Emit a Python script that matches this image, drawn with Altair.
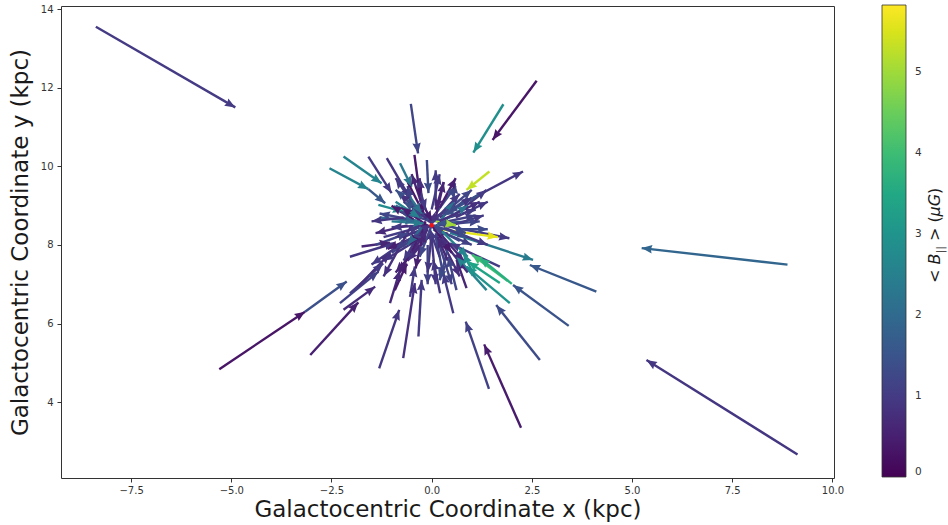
import math
import altair as alt
import pandas as pd

# Line-of-sight field arrows: tail (x0, y0) -> tip (x1, y1) in kpc, colour = <B_par> in uG
x0 = [-8.38, 9.13, 8.88, -5.30, -3.16, -3.03, -1.31, -0.71, -0.33, 0.54, 1.43, 2.23,
      2.70, 3.42, 4.11, 0.46, 0.21, 0.13, 1.44, 1.79, 2.62, 0.79, 0.62, -0.52,
      -2.55, -1.58, -2.20, -1.58, -1.12, -0.79, -0.43, -0.12, -1.33,
      -2.04, -2.29, -2.20, -2.04, -1.83, -1.75,
      -1.04, -0.92, -0.54, 0.21, 0.62, 0.87, 1.08, 1.95, 1.37, 1.70, 1.90, 1.70, 2.00,
      -0.10, -0.10, 0.00, -0.20, -0.10, 0.00, -0.30, 0.10, 0.10, 0.20, 0.10, 0.00,
      0.10, 0.20, 0.00, -0.20, 0.10, -0.30, -0.20, 0.10, -0.40, -1.20, -1.00, 1.20,
      0.90, -0.60, -0.90, -1.30, 0.50, -0.05, 0.15, -0.15, 0.05,
      0.30, 0.40, -0.60, -0.70, 0.60, 0.70, -0.30, 0.20, -0.50, 0.90,
      0.00, 0.00, 0.05, -0.05, 0.00, 0.00, -1.00, 0.50, 0.30, -0.20,
      0.10, -0.40, -0.30, 0.30, -0.10, 0.20, 0.30, -0.15, 0.20, -0.60,
      0.60, -0.50, 0.40, -0.80, 0.10, -0.25, 0.35, -0.45,
      0.20, 0.15, 0.90, -0.90, -0.60, -0.20, 0.00, -0.50, 0.10, -0.35,
      0.30, 0.60, -0.70, -1.40, 0.40]
y0 = [13.55, 2.67, 7.50, 4.84, 6.30, 5.20, 4.86, 5.12, 5.67, 6.26, 4.34, 3.35,
      5.07, 5.94, 6.81, 8.31, 8.51, 8.41, 9.87, 11.58, 12.18, 9.06, 8.81, 11.59,
      9.95, 9.42, 10.25, 10.25, 10.21, 10.08, 10.29, 10.16, 9.02,
      7.70, 6.52, 6.35, 6.77, 6.94, 7.96,
      6.52, 6.85, 6.68, 6.77, 6.85, 6.90, 7.19, 6.52, 6.85, 7.45, 7.08, 7.03, 7.01,
      8.50, 8.40, 8.60, 8.30, 8.70, 8.30, 8.00, 8.60, 8.50, 8.70, 8.80, 8.90,
      8.40, 8.30, 8.30, 8.40, 8.20, 8.30, 8.70, 8.70, 8.70, 8.20, 7.80, 9.30,
      7.30, 9.60, 9.00, 8.70, 8.70, 8.45, 8.65, 8.60, 8.35,
      8.60, 8.30, 8.90, 8.20, 9.00, 8.10, 9.20, 7.70, 7.80, 8.60,
      8.55, 8.55, 8.50, 8.50, 8.50, 8.50, 8.60, 8.50, 8.80, 8.90,
      9.00, 8.10, 8.60, 8.00, 8.00, 8.40, 8.45, 8.75, 8.95, 8.50,
      8.70, 9.10, 7.90, 8.00, 8.60, 8.45, 8.65, 8.65,
      8.60, 8.55, 9.20, 9.10, 9.30, 8.40, 8.20, 8.50, 8.30, 9.60,
      9.60, 8.40, 8.70, 8.00, 7.60]
x1 = [-4.90, 5.36, 5.24, -3.16, -2.12, -1.83, -0.81, -0.42, -0.25, 0.29, 0.85, 1.31,
      1.61, 2.03, 2.45, 2.53, 1.94, 1.65, 0.87, 1.04, 1.52, 2.28, 1.37, -0.34,
      -1.58, -1.16, -1.25, -1.00, -0.54, -0.50, -0.29, -0.08, -0.71,
      -0.92, -1.33, -1.41, -1.21, -1.04, -1.04,
      -0.79, -0.62, -0.42, 0.04, 0.41, 0.62, 0.79, 0.87, 0.62, 0.46, 1.01, 0.91, 1.20,
      -1.00, -0.90, -0.80, -1.10, -0.70, -0.60, -0.90, 1.10, 1.20, 1.00, 0.60, 0.20,
      1.00, 0.80, -0.10, -0.40, 0.30, -0.70, -0.30, 0.30, -0.60, -0.30, -0.20, 0.30,
      0.20, -0.20, -0.25, -0.40, 0.58, -0.75, 0.85, -0.55, 0.55,
      -0.50, -0.40, 0.10, 0.00, -0.10, 0.05, 0.00, -0.05, -0.10, 0.15,
      0.70, -0.80, 0.90, -0.90, 0.50, -0.30, -0.20, 1.30, 1.00, -0.50,
      0.10, -1.20, -1.30, 0.70, -0.10, 0.90, 1.40, -0.90, 0.60, -1.40,
      1.40, -0.90, 0.20, -1.50, 0.60, -0.60, 0.90, -1.00,
      1.20, 1.10, 0.40, -0.30, -0.25, -0.80, 0.10, -1.20, 0.50, -0.15,
      0.10, 1.40, -1.50, -0.60, 0.15]
y1 = [11.50, 5.07, 7.92, 6.30, 7.07, 6.54, 6.35, 7.03, 7.11, 7.28, 6.05, 5.47,
      6.47, 6.98, 7.49, 7.62, 8.17, 8.20, 9.40, 10.35, 10.67, 9.87, 9.40, 10.33,
      9.42, 9.06, 9.57, 9.32, 9.19, 9.48, 9.23, 9.32, 8.85,
      8.05, 7.32, 6.94, 7.53, 7.79, 8.06,
      7.36, 7.53, 7.45, 7.62, 7.70, 7.62, 7.79, 7.45, 7.70, 8.04, 7.75, 7.57, 7.67,
      8.45, 8.20, 8.85, 7.90, 9.10, 7.60, 7.30, 8.90, 8.60, 9.20, 9.50, 9.80,
      8.00, 7.60, 7.30, 7.40, 7.20, 7.60, 9.70, 9.60, 9.50, 8.45, 8.30, 8.75,
      8.20, 8.80, 8.70, 8.60, 9.57, 8.95, 8.30, 8.00, 9.10,
      8.90, 8.10, 8.60, 8.50, 8.60, 8.45, 8.60, 8.40, 8.40, 8.55,
      9.30, 9.30, 8.20, 7.90, 7.80, 7.70, 8.55, 8.75, 9.40, 9.80,
      9.90, 7.60, 8.80, 7.20, 7.00, 7.70, 8.00, 9.40, 9.70, 8.30,
      9.10, 9.70, 7.10, 7.50, 8.50, 8.00, 9.00, 9.00,
      9.10, 8.75, 8.80, 8.70, 8.80, 7.30, 7.00, 7.20, 7.00, 8.90,
      8.90, 8.40, 8.60, 8.30, 8.20]
bpar = [1.0, 0.9, 1.9, 0.3, 1.4, 0.5, 0.9, 0.8, 1.0, 1.0, 1.1, 0.4,
        1.3, 1.5, 1.6, 2.4, 1.0, 5.6, 5.3, 2.9, 0.3, 0.9, 1.0, 1.2,
        2.6, 1.6, 2.6, 1.0, 0.9, 2.3, 0.4, 1.3, 2.8,
        0.9, 1.1, 0.7, 1.0, 0.8, 0.6,
        0.7, 0.4, 1.0, 0.9, 1.2, 0.6, 2.9, 3.0, 2.6, 1.0, 4.0, 3.4, 3.7,
        1.0, 0.7, 1.2, 0.5, 1.4, 0.8, 0.6, 1.0, 1.2, 0.9, 1.3, 1.0,
        1.1, 0.7, 0.9, 0.5, 1.2, 1.0, 0.8, 0.6, 1.1, 1.0, 1.1, 1.4,
        0.8, 0.3, 1.8, 2.0, 1.2, 0.5, 1.3, 0.3, 2.2,
        1.1, 0.6, 1.3, 0.9, 0.8, 1.2, 0.5, 1.0, 0.7, 1.5,
        1.0, 0.8, 1.3, 1.1, 0.4, 1.2, 2.4, 1.0, 1.2, 0.6,
        1.0, 0.9, 1.2, 0.8, 1.1, 2.6, 1.0, 1.4, 0.5, 0.7,
        0.9, 1.0, 1.3, 1.0, 5.0, 2.0, 2.2, 0.4,
        0.8, 1.1, 1.3, 2.5, 2.2, 0.5, 0.9, 0.8, 1.1, 1.0,
        0.6, 1.3, 0.9, 1.2, 0.7]

sun_x = [0.0]
sun_y = [8.5]

x_ticks = [-7.5, -5.0, -2.5, 0.0, 2.5, 5.0, 7.5, 10.0]
y_ticks = [4, 6, 8, 10, 12, 14]
cbar_ticks = [0, 1, 2, 3, 4, 5]

XMIN, XMAX = -9.25, 10.04
YMIN, YMAX = 2.07, 14.08
BMAX = 5.83
W, H = 773, 472

df = pd.DataFrame({"x0": x0, "y0": y0, "x1": x1, "y1": y1, "b": bpar})
# heading of each arrow on screen (clockwise from north), for rotating the heads
sx = W / (XMAX - XMIN)
sy = H / (YMAX - YMIN)
df["angle"] = [
    (math.degrees(math.atan2((b - a) * sx, (d - c) * sy)) + 360.0) % 360.0
    for a, b, c, d in zip(df.x0, df.x1, df.y0, df.y1)
]

# arrow head with its tip at the anchor point, pointing up before rotation
HEAD = "M0,0L-0.4,1L0,0.88L0.4,1Z"

xs = alt.Scale(domain=[XMIN, XMAX], nice=False, zero=False)
ys = alt.Scale(domain=[YMIN, YMAX], nice=False, zero=False)


def viridis():
    return alt.Scale(scheme="viridis", domain=[0, BMAX])


base = alt.Chart(df)

shafts = base.mark_rule(strokeWidth=2.4, strokeCap="butt").encode(
    x=alt.X("x0:Q", scale=xs, axis=alt.Axis(
        values=x_ticks, format=".1f", title="Galactocentric Coordinate x (kpc)",
        grid=False, domain=False, tickSize=4, labelPadding=3, titlePadding=3)),
    y=alt.Y("y0:Q", scale=ys, axis=alt.Axis(
        values=y_ticks, format="d", title="Galactocentric Coordinate y (kpc)",
        grid=False, domain=False, tickSize=4, labelPadding=4, titlePadding=8)),
    x2="x1:Q",
    y2="y1:Q",
    color=alt.Color("b:Q", scale=viridis(), legend=alt.Legend(
        type="gradient", orient="none", legendX=821, legendY=-1, title=None,
        direction="vertical", gradientLength=472, gradientThickness=24,
        values=cbar_ticks, format="d",
        labelFont="DejaVu Sans", labelFontSize=10.5, labelColor="#333", labelOffset=9,
        gradientStrokeColor="#333", gradientStrokeWidth=0.8, padding=0)),
)

heads = base.mark_point(shape=HEAD, size=440, filled=True, opacity=1, strokeWidth=0).encode(
    x=alt.X("x1:Q", scale=xs),
    y=alt.Y("y1:Q", scale=ys),
    angle=alt.Angle("angle:Q", scale=None),
    fill=alt.Fill("b:Q", scale=viridis(), legend=None),
)

sun = alt.Chart(pd.DataFrame({"x": sun_x, "y": sun_y})).mark_point(
    shape="circle", filled=True, color="#e8141a", size=22, opacity=1
).encode(x=alt.X("x:Q", scale=xs), y=alt.Y("y:Q", scale=ys))

# colourbar label "< B|| > (uG)", set in pieces so B and uG can be italic
one = pd.DataFrame({"k": [0]})
label_parts = [
    ("<", "normal", 16, 879, 277),
    ("B", "italic", 16, 879, 258.5),
    ("||", "italic", 11, 883, 247.5),
    ("> (", "normal", 16, 879, 235),
    ("\u03bcG", "italic", 16, 879, 210.5),
    (")", "normal", 16, 879, 188),
]
label_layers = [
    alt.Chart(one).mark_text(
        text=t, fontStyle=st, fontSize=fs, font="DejaVu Sans", color="#1a1a1a",
        angle=270, align="left", baseline="alphabetic"
    ).encode(x=alt.value(px), y=alt.value(py))
    for t, st, fs, px, py in label_parts
]

chart = alt.layer(shafts, heads, sun, *label_layers).resolve_scale(
    color="independent", fill="independent"
).properties(
    width=W, height=H,
    autosize=alt.AutoSizeParams(type="none"),
    padding={"left": 61, "top": 6, "right": 114, "bottom": 47},
).configure_view(
    stroke="#333", strokeWidth=1
).configure_axis(
    labelFont="DejaVu Sans", labelFontSize=10, labelColor="#333",
    tickColor="#333", tickWidth=1,
    titleFont="DejaVu Sans", titleFontSize=23, titleFontWeight="normal", titleColor="#1a1a1a",
)

chart.save("out.html", embed_options={"renderer": "svg", "actions": False})
